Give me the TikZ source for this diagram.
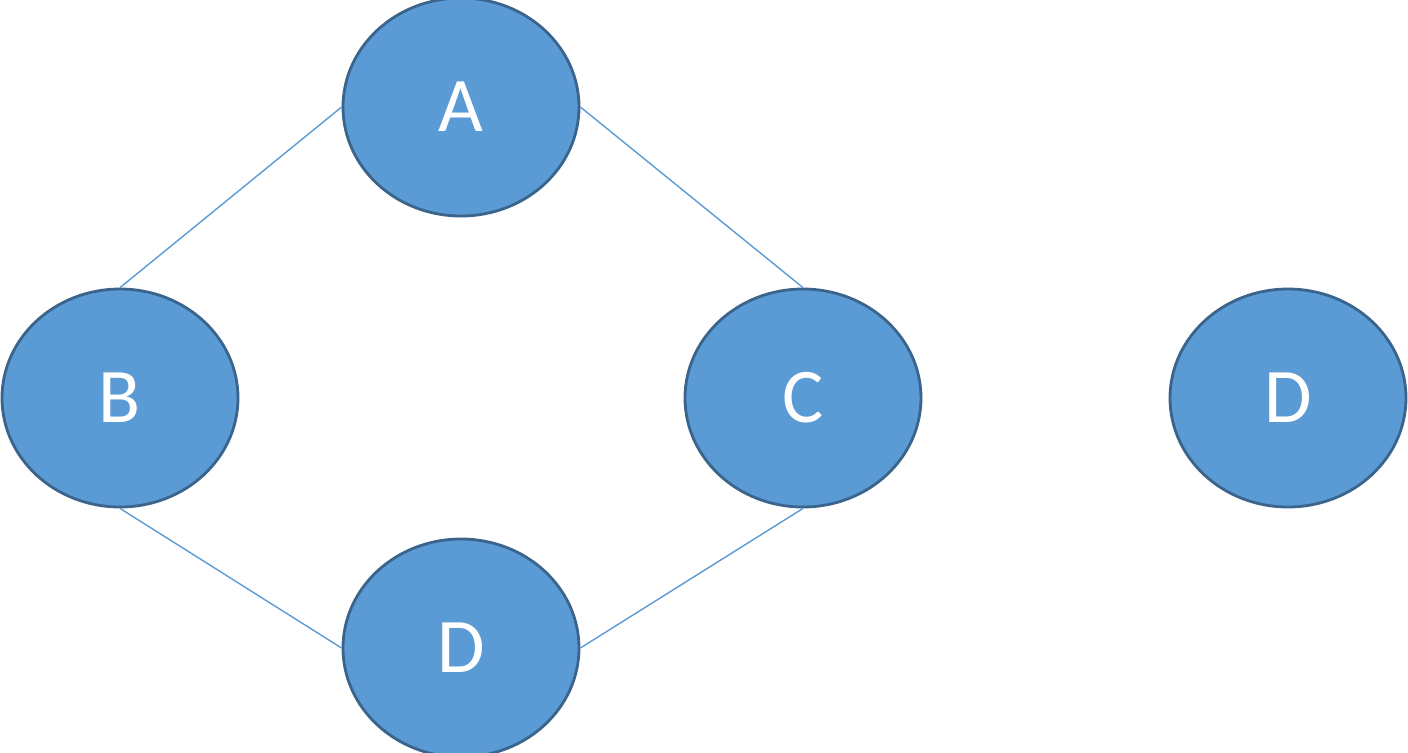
\documentclass[tikz,border=0pt]{standalone}
\usepackage{fontspec}
\setmainfont{Carlito}
\usetikzlibrary{shapes.geometric}
\definecolor{nodefill}{RGB}{91,155,213}
\definecolor{nodeline}{RGB}{58,100,140}
\tikzset{vertex/.style={ellipse, draw=nodeline, thick, fill=nodefill, minimum width=2.36cm, minimum height=2.18cm, text=white, font=\fontsize{22}{24}\selectfont},
         edge/.style={draw=nodefill, thin}}

\begin{document}
\begin{tikzpicture}[line join = round]
    \clip (0,0) rectangle (14.08,-7.52);
    \node[vertex] (a) at (4.61,-1.07) {A};
    \node[vertex] (b) at (1.20,-3.98) {B};
    \node[vertex] (c) at (8.03,-3.98) {C};
    \node[vertex] (d) at (4.61,-6.48) {D};
    \node[vertex] (e) at (12.88,-3.98) {D};
    \draw[edge] (a.west) -- (b.north);
    \draw[edge] (a.east) -- (c.north);
    \draw[edge] (b.south) -- (d.west);
    \draw[edge] (c.south) -- (d.east);
\end{tikzpicture}
\end{document}
